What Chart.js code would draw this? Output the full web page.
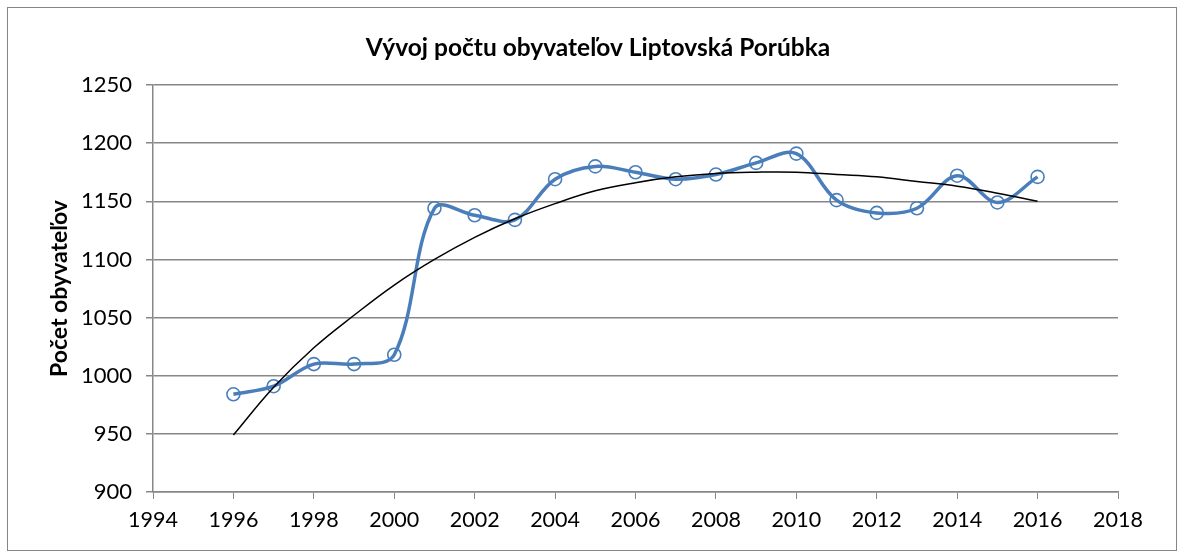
<!DOCTYPE html>
<html>
<head>
<meta charset="utf-8">
<script src="https://cdn.jsdelivr.net/npm/chart.js@4"></script>
<style>
    body { margin: 0; background: #fff; }
    #box {
        position: absolute; left: 7px; top: 7px;
        width: 1168px; height: 542px;
        border: 1px solid #868686;
    }
</style>
</head>
<body>
<div id="box"><canvas id="chart" width="1168" height="542"></canvas></div>
<script>
// Roky a počet obyvateľov
const years = [1996, 1997, 1998, 1999, 2000, 2001, 2002, 2003, 2004, 2005, 2006,
               2007, 2008, 2009, 2010, 2011, 2012, 2013, 2014, 2015, 2016];
const population = [984, 991, 1010, 1010, 1018, 1144, 1138, 1134, 1169, 1180, 1175,
                    1169, 1173, 1183, 1191, 1151, 1140, 1144, 1172, 1149, 1171];
// trendline values
const trend = [949, 990, 1024, 1052, 1078, 1100, 1119, 1135, 1148, 1159, 1166,
               1171, 1174, 1175, 1175, 1173, 1171, 1167, 1163, 1157, 1150];

const xTicks = [1994, 1996, 1998, 2000, 2002, 2004, 2006, 2008, 2010, 2012, 2014, 2016, 2018];
const yTicks = [900, 950, 1000, 1050, 1100, 1150, 1200, 1250];

const chartTitle = 'Vývoj počtu obyvateľov Liptovská Porúbka';
const fontFamily = "Lato, 'Open Sans', sans-serif";
const gridColor = '#878787';

// title centred over the whole box, not just the area left of the right padding
const titlePlugin = {
    id: 'boxTitle',
    afterDraw(chart) {
        const c = chart.ctx;
        c.save();
        c.font = 'bold 24.5px ' + fontFamily;
        c.fillStyle = '#000';
        c.textAlign = 'center';
        c.textBaseline = 'middle';
        c.fillText(chartTitle, 590, 40);
        c.restore();
    }
};

const ctx = document.getElementById('chart').getContext('2d');
new Chart(ctx, {
    type: 'line',
    data: {
        datasets: [
            {
                label: 'Trend',
                data: years.map((y, i) => ({ x: y, y: trend[i] })),
                borderColor: '#000',
                borderWidth: 1.5,
                pointRadius: 0,
                tension: 0.4,
                fill: false
            },
            {
                label: 'Počet obyvateľov',
                data: years.map((y, i) => ({ x: y, y: population[i] })),
                borderColor: '#4A7EBB',
                borderWidth: 3.5,
                pointRadius: 6.5,
                pointBorderWidth: 1.6,
                pointBorderColor: '#4A7EBB',
                pointBackgroundColor: 'rgba(255,255,255,0)',
                tension: 0.35,
                fill: false
            }
        ]
    },
    plugins: [titlePlugin],
    options: {
        responsive: false,
        animation: false,
        layout: { padding: { left: 0, right: 58, top: 77, bottom: 0 } },
        plugins: {
            legend: { display: false },
            tooltip: { enabled: false },
            title: { display: false }
        },
        scales: {
            x: {
                type: 'linear',
                min: 1994,
                max: 2018,
                afterBuildTicks: scale => { scale.ticks = xTicks.map(v => ({ value: v })); },
                afterFit: scale => { scale.height = 58; },
                grid: {
                    drawOnChartArea: false,
                    color: gridColor,
                    tickLength: 7
                },
                border: { color: gridColor, width: 1.5 },
                ticks: {
                    color: '#000',
                    padding: 8,
                    font: { family: fontFamily, size: 21.5 },
                    callback: v => String(v)
                }
            },
            y: {
                min: 900,
                max: 1250,
                afterBuildTicks: scale => { scale.ticks = yTicks.map(v => ({ value: v })); },
                afterFit: scale => { scale.width = 145; },
                grid: {
                    color: gridColor,
                    lineWidth: 1.5,
                    tickLength: 7
                },
                border: { color: gridColor, width: 1.5 },
                ticks: {
                    color: '#000',
                    padding: 14,
                    font: { family: fontFamily, size: 22 },
                    callback: v => String(v)
                },
                title: {
                    display: true,
                    text: 'Počet obyvateľov',
                    color: '#000',
                    font: { family: fontFamily, size: 23, weight: 'bold' },
                    padding: { top: 38, bottom: 0 }
                }
            }
        }
    }
});
</script>
</body>
</html>
